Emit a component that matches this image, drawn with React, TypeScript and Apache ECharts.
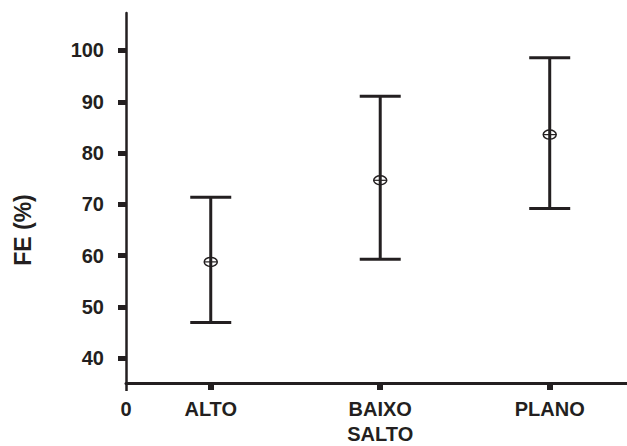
import React, { useEffect, useRef } from "react";
import * as echarts from "echarts";

const categories = ["ALTO", "BAIXO\nSALTO", "PLANO"];
const positions = [0.5, 1.5, 2.5];
const means = [58.8, 74.7, 83.6];
const lows = [47.0, 59.3, 69.2];
const highs = [71.4, 91.1, 98.6];
const yTicks = [40, 50, 60, 70, 80, 90, 100];
const yMin = 35.2;
const yMax = 107.3;
const xMin = 0;
const xMax = 2.956;

const INK = "#231f20";
const FONT = "Liberation Sans, Arial, sans-serif";

export default function App() {
  const ref = useRef<HTMLDivElement>(null);
  useEffect(() => {
    if (!ref.current) return;
    const chart = echarts.init(ref.current, undefined, { renderer: "svg" });
    const labelMap: Record<string, string> = { "0": "0" };
    positions.forEach((p, i) => (labelMap[String(p)] = categories[i]));
    const data = positions.map((p, i) => [p, lows[i], highs[i], means[i]]);
    chart.setOption({
      animation: false,
      backgroundColor: "#ffffff",
      grid: { left: 126, right: 0, top: 13, bottom: 62, containLabel: false },
      xAxis: [
        {
          type: "value",
          min: xMin,
          max: xMax,
          position: "bottom",
          splitLine: { show: false },
          axisLine: { show: true, onZero: false, lineStyle: { color: INK, width: 3 } },
          axisTick: {
            show: true,
            customValues: positions,
            length: 7,
            lineStyle: { color: INK, width: 6 },
          },
          axisLabel: {
            show: true,
            customValues: [0, ...positions],
            margin: 13,
            color: INK,
            fontFamily: FONT,
            fontWeight: "bold",
            fontSize: 20,
            lineHeight: 25,
            formatter: (v: number) => labelMap[String(v)] ?? "",
          },
        },
        {
          type: "value",
          min: xMin,
          max: xMax,
          position: "bottom",
          splitLine: { show: false },
          axisLine: { show: false, onZero: false },
          axisTick: { show: true, customValues: [0], length: 8, lineStyle: { color: INK, width: 2.5 } },
          axisLabel: { show: false },
        },
      ],
      yAxis: [
        {
          type: "value",
          min: yMin,
          max: yMax,
          splitLine: { show: false },
          axisLine: { show: true, onZero: false, lineStyle: { color: INK, width: 2.5 } },
          axisTick: {
            show: true,
            customValues: yTicks,
            length: 8,
            lineStyle: { color: INK, width: 5 },
          },
          axisLabel: {
            show: true,
            customValues: yTicks,
            margin: 22,
            color: INK,
            fontFamily: FONT,
            fontWeight: "bold",
            fontSize: 20,
          },
        },
        {
          type: "value",
          min: yMin,
          max: yMax,
          splitLine: { show: false },
          axisLine: { show: false, onZero: false },
          axisTick: { show: true, customValues: [yMin], length: 8, lineStyle: { color: INK, width: 3 } },
          axisLabel: { show: false },
        },
      ],
      graphic: [
        {
          type: "text",
          x: 23,
          y: 230,
          originX: 0,
          originY: 0,
          rotation: Math.PI / 2,
          style: {
            text: "FE (%)",
            fill: INK,
            fontFamily: FONT,
            fontWeight: "bold",
            fontSize: 23,
            align: "center",
            verticalAlign: "middle",
          },
        },
      ],
      series: [
        {
          type: "custom",
          xAxisIndex: 0,
          yAxisIndex: 0,
          data,
          clip: false,
          renderItem: (params: any, api: any) => {
            const x = api.value(0);
            const top = api.coord([x, api.value(2)]);
            const bot = api.coord([x, api.value(1)]);
            const mid = api.coord([x, api.value(3)]);
            const hw = 20.5;
            const ls = { stroke: INK, lineWidth: 3 };
            return {
              type: "group",
              children: [
                { type: "line", shape: { x1: top[0], y1: top[1], x2: bot[0], y2: bot[1] }, style: ls },
                { type: "line", shape: { x1: top[0] - hw, y1: top[1], x2: top[0] + hw, y2: top[1] }, style: ls },
                { type: "line", shape: { x1: bot[0] - hw, y1: bot[1], x2: bot[0] + hw, y2: bot[1] }, style: ls },
                {
                  type: "ellipse",
                  shape: { cx: mid[0], cy: mid[1], rx: 6.5, ry: 4.5 },
                  style: { fill: "none", stroke: INK, lineWidth: 1.5 },
                },
                {
                  type: "line",
                  shape: { x1: mid[0] - 6.5, y1: mid[1], x2: mid[0] + 6.5, y2: mid[1] },
                  style: { stroke: INK, lineWidth: 1.2 },
                },
              ],
            };
          },
        },
      ],
    });
    return () => chart.dispose();
  }, []);
  return <div ref={ref} style={{ width: 627, height: 446, position: "absolute", left: 0, top: 0 }} />;
}
